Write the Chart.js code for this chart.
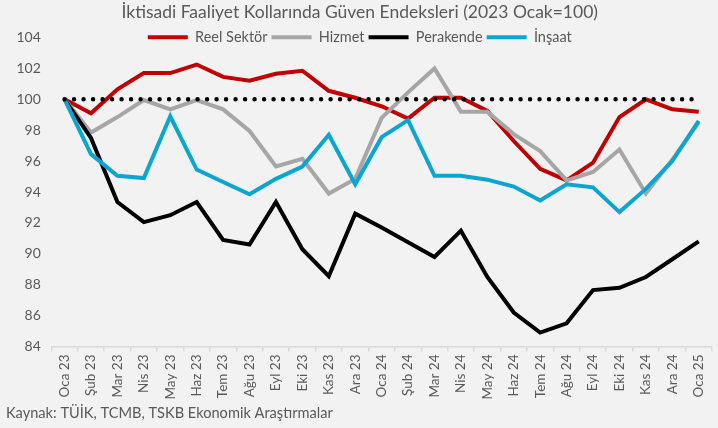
<!DOCTYPE html>
<html>
<head>
<meta charset="utf-8">
<script src="https://cdn.jsdelivr.net/npm/chart.js@4.4.1/dist/chart.umd.min.js"></script>
<style>
  body { margin: 0; background: #f2f2f2; }
  #wrap { width: 718px; height: 428px; }
</style>
</head>
<body>
<div id="wrap"><canvas id="guvenChart" width="718" height="428"></canvas></div>
<script>
// Categories (months)
const months = ['Oca 23', 'Şub 23', 'Mar 23', 'Nis 23', 'May 23', 'Haz 23', 'Tem 23', 'Ağu 23', 'Eyl 23', 'Eki 23', 'Kas 23', 'Ara 23',
                'Oca 24', 'Şub 24', 'Mar 24', 'Nis 24', 'May 24', 'Haz 24', 'Tem 24', 'Ağu 24', 'Eyl 24', 'Eki 24', 'Kas 24', 'Ara 24', 'Oca 25'];

// Series values (2023 Ocak = 100)
const reelSektor = [100, 99.1, 100.65, 101.7, 101.7, 102.25, 101.45, 101.2, 101.65, 101.85, 100.55, 100.1,
                    99.55, 98.75, 100.1, 100.1, 99.25, 97.3, 95.5, 94.75, 95.9, 98.85, 100.0, 99.35, 99.2];
const hizmet = [100, 97.85, 98.85, 99.95, 99.35, 99.95, 99.35, 97.95, 95.65, 96.15, 93.9, 94.85,
                98.8, 100.45, 102.0, 99.2, 99.2, 97.75, 96.65, 94.75, 95.3, 96.75, 93.9, 96.1, 98.5];
const perakende = [100, 97.5, 93.35, 92.05, 92.5, 93.35, 90.9, 90.6, 93.35, 90.3, 88.55, 92.6,
                   91.7, 90.75, 89.8, 91.5, 88.5, 86.2, 84.9, 85.5, 87.65, 87.8, 88.5, 89.65, 90.8];
const insaat = [100, 96.45, 95.05, 94.9, 98.9, 95.45, 94.65, 93.85, 94.85, 95.65, 97.7, 94.5,
                97.55, 98.65, 95.05, 95.05, 94.8, 94.35, 93.45, 94.5, 94.3, 92.7, 94.2, 96.0, 98.6];
const baseLine = months.map(() => 100);

// Y axis ticks
const yMin = 84;
const yMax = 104;
const yStep = 2;

const textColor = '#595959';
const fontFamily = 'Lato, "Open Sans", sans-serif';

// The legend sits over the top of the plot: take part of its height out of the layout,
// then give it back after layout so its text isn't clipped
const legendOverlap = 17;
const legendTighten = {
    id: 'legendTighten',
    beforeInit(chart) {
        const origFit = chart.legend.fit;
        chart.legend.fit = function fit() {
            origFit.bind(chart.legend)();
            this.height -= legendOverlap;
        };
    },
    afterLayout(chart) {
        chart.legend.height += legendOverlap;
        chart.legend.bottom += legendOverlap;
    }
};

function lineSet(label, data, color, order) {
    return {
        label: label,
        data: data,
        borderColor: color,
        backgroundColor: color,
        borderWidth: 4,
        pointRadius: 0,
        pointHoverRadius: 0,
        tension: 0,
        order: order
    };
}

function initChart() {
    const ctx = document.getElementById('guvenChart').getContext('2d');
    new Chart(ctx, {
        type: 'line',
        data: {
            labels: months,
            datasets: [
                lineSet('Reel Sektör', reelSektor, '#c00000', 4),
                lineSet('Hizmet', hizmet, '#a6a6a6', 3),
                lineSet('Perakende', perakende, '#000000', 2),
                lineSet('İnşaat', insaat, '#0ba6d0', 1),
                {
                    label: 'base',
                    data: baseLine,
                    borderColor: '#000000',
                    borderWidth: 4.5,
                    borderDash: [0, 9.5],
                    borderCapStyle: 'round',
                    pointRadius: 0,
                    order: 0
                }
            ]
        },
        options: {
            responsive: false,
            animation: false,
            layout: { padding: { left: 6, right: 4.5, top: 0, bottom: 4 } },
            plugins: {
                title: {
                    display: true,
                    text: 'İktisadi Faaliyet Kollarında Güven Endeksleri (2023 Ocak=100)',
                    color: textColor,
                    font: { family: fontFamily, size: 17.5, weight: 'normal' },
                    padding: { top: 2, bottom: 3 }
                },
                subtitle: {
                    display: true,
                    position: 'bottom',
                    align: 'start',
                    text: 'Kaynak: TÜİK, TCMB, TSKB Ekonomik Araştırmalar',
                    color: textColor,
                    font: { family: fontFamily, size: 14.6, weight: 'normal' },
                    padding: { top: 2, bottom: 2 }
                },
                legend: {
                    position: 'top',
                    labels: {
                        color: textColor,
                        font: { family: fontFamily, size: 14.5 },
                        boxWidth: 40,
                        boxHeight: 4,
                        padding: 4,
                        sort: (a, b) => a.datasetIndex - b.datasetIndex,
                        filter: item => item.text !== 'base',
                        generateLabels(chart) {
                            const items = Chart.defaults.plugins.legend.labels.generateLabels(chart);
                            return items.map(it => Object.assign(it, { lineWidth: 0 }));
                        }
                    }
                },
                tooltip: { enabled: false }
            },
            scales: {
                x: {
                    offset: true,
                    grid: {
                        offset: true,
                        drawOnChartArea: false,
                        tickLength: 5,
                        color: '#d9d9d9',
                        lineWidth: 1.5
                    },
                    border: { color: '#d9d9d9', width: 1.5 },
                    ticks: {
                        color: textColor,
                        font: { family: fontFamily, size: 13.5 },
                        minRotation: 90,
                        maxRotation: 90,
                        autoSkip: false,
                        padding: 3
                    }
                },
                y: {
                    min: yMin,
                    max: yMax,
                    grid: { display: false, drawTicks: false },
                    border: { display: false },
                    ticks: {
                        stepSize: yStep,
                        color: textColor,
                        font: { family: fontFamily, size: 14 },
                        padding: 10.5
                    }
                }
            }
        },
        plugins: [legendTighten]
    });
}

document.addEventListener("DOMContentLoaded", function() {
    initChart();
});
</script>
</body>
</html>
